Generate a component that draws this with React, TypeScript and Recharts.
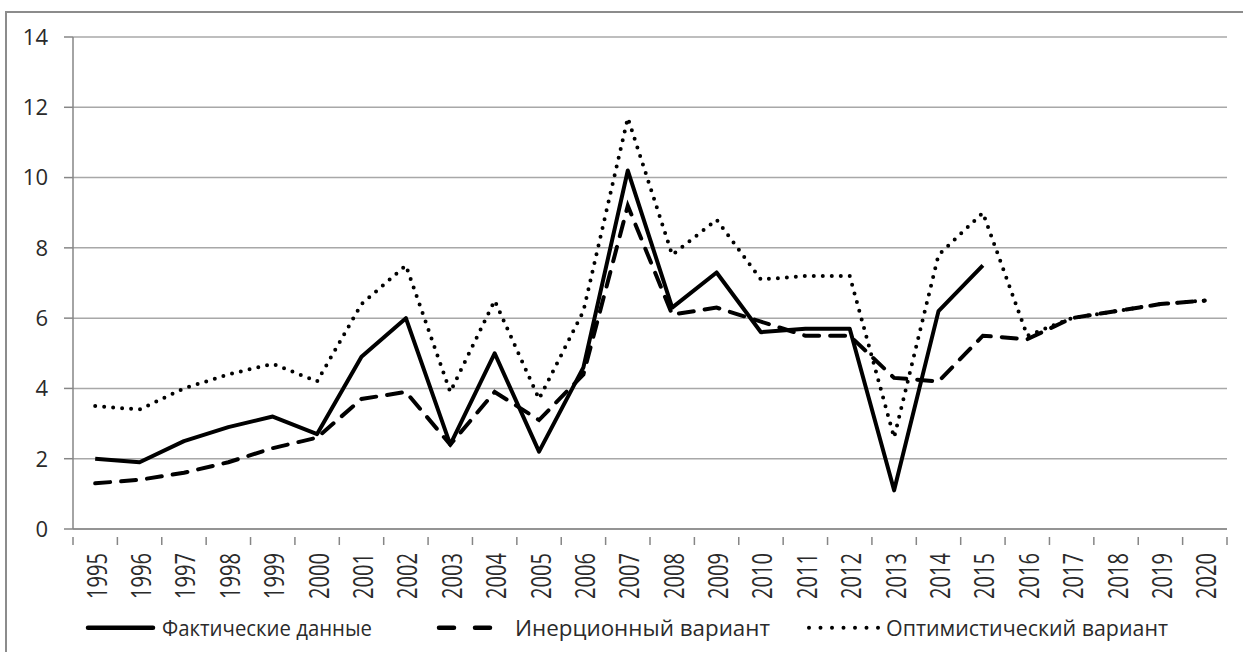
import React from 'react';
import { LineChart, Line, XAxis, YAxis, CartesianGrid, Legend } from 'recharts';

const years = ['1995','1996','1997','1998','1999','2000','2001','2002','2003','2004','2005','2006','2007','2008','2009','2010','2011','2012','2013','2014','2015','2016','2017','2018','2019','2020'];
const actual = [2.0,1.9,2.5,2.9,3.2,2.7,4.9,6.0,2.4,5.0,2.2,4.6,10.2,6.3,7.3,5.6,5.7,5.7,1.1,6.2,7.5,null,null,null,null,null];
const inertial = [1.3,1.4,1.6,1.9,2.3,2.6,3.7,3.9,2.4,3.9,3.1,4.4,9.2,6.1,6.3,5.9,5.5,5.5,4.3,4.2,5.5,5.4,6.0,6.2,6.4,6.5];
const optimistic = [3.5,3.4,4.0,4.4,4.7,4.2,6.4,7.5,3.9,6.5,3.7,6.2,11.7,7.8,8.8,7.1,7.2,7.2,2.6,7.8,9.0,5.5,6.0,6.2,6.4,6.5];
const yTicks = [0,2,4,6,8,10,12,14];
const seriesNames = ['Фактические данные','Инерционный вариант','Оптимистический вариант'];

const data = years.map((y, i) => ({ year: y, actual: actual[i], inertial: inertial[i], optimistic: optimistic[i] }));

const W = 1243;
const H = 652;
const PLOT_LEFT = 73;
const PLOT_RIGHT = 1227;
const BAND = (PLOT_RIGHT - PLOT_LEFT) / years.length;
const AXIS_COLOR = '#868686';
const TEXT_COLOR = '#2a2a2a';
const FONT = '"Open Sans", "DejaVu Sans", sans-serif';

const XTick = (props: any) => {
  const { x, y, payload, index } = props;
  const left = x - BAND / 2;
  const right = x + BAND / 2;
  return (
    <g>
      <line x1={left} y1={y} x2={left} y2={y + 8} stroke={AXIS_COLOR} strokeWidth={1.5} />
      {index === years.length - 1 && (
        <line x1={right} y1={y} x2={right} y2={y + 8} stroke={AXIS_COLOR} strokeWidth={1.5} />
      )}
      <text
        x={0}
        y={0}
        transform={`translate(${x + 1},${y + 16}) rotate(-90)`}
        textAnchor="end"
        dominantBaseline="central"
        fontSize={27}
        textLength={46}
        lengthAdjust="spacingAndGlyphs"
        fill={TEXT_COLOR}
        fontFamily={FONT}
      >
        {payload.value}
      </text>
    </g>
  );
};

const LegendContent = () => {
  const ly = 22.7;
  const ty = 31;
  return (
    <svg width={W} height={40} style={{ display: 'block' }}>
      <line x1={88} y1={ly} x2={153} y2={ly} stroke="#000" strokeWidth={4.5} strokeLinecap="round" />
      <text x={162} y={ty} fontSize={21} fill={TEXT_COLOR} fontFamily={FONT} textLength={210} lengthAdjust="spacingAndGlyphs">{seriesNames[0]}</text>
      <line x1={439} y1={ly} x2={490} y2={ly} stroke="#000" strokeWidth={4.5} strokeLinecap="round" strokeDasharray="15 21" />
      <text x={515} y={ty} fontSize={21} fill={TEXT_COLOR} fontFamily={FONT} textLength={255} lengthAdjust="spacingAndGlyphs">{seriesNames[1]}</text>
      <line x1={809} y1={ly} x2={879} y2={ly} stroke="#000" strokeWidth={4} strokeLinecap="round" strokeDasharray="0 11.5" />
      <text x={886} y={ty} fontSize={21} fill={TEXT_COLOR} fontFamily={FONT} textLength={282} lengthAdjust="spacingAndGlyphs">{seriesNames[2]}</text>
    </svg>
  );
};

export default function App() {
  return (
    <div style={{ position: 'absolute', left: 0, top: 0, width: W, height: H, overflow: 'hidden', background: '#fff' }}>
      <div style={{ position: 'absolute', left: 5, top: 11, width: W + 20, height: H + 20, border: '2px solid #8c8c8c', boxSizing: 'border-box' }} />
      <div style={{ position: 'absolute', left: 0, top: 0 }}>
        <LineChart width={W} height={H} data={data} margin={{ top: 37, right: W - PLOT_RIGHT, bottom: 0, left: 0 }}>
          <CartesianGrid vertical={false} stroke="#a8a8a8" strokeWidth={1.5} />
          <XAxis
            dataKey="year"
            scale="band"
            interval={0}
            height={83}
            tickLine={false}
            axisLine={{ stroke: AXIS_COLOR, strokeWidth: 1.5 }}
            tick={<XTick />}
          />
          <YAxis
            domain={[0, 14]}
            ticks={yTicks}
            width={PLOT_LEFT}
            tickSize={9}
            tickMargin={16}
            tickLine={{ stroke: AXIS_COLOR, strokeWidth: 1.5 }}
            axisLine={{ stroke: AXIS_COLOR, strokeWidth: 1.5 }}
            tick={{ fill: TEXT_COLOR, fontSize: 22, fontFamily: FONT }}
          />
          <Legend
            content={<LegendContent />}
            wrapperStyle={{ position: 'absolute', top: 605, left: 0, width: W, height: 40 }}
          />
          <Line dataKey="optimistic" name={seriesNames[2]} stroke="#000" strokeWidth={4} strokeLinecap="round" strokeDasharray="0 9" dot={false} activeDot={false} isAnimationActive={false} />
          <Line dataKey="inertial" name={seriesNames[1]} stroke="#000" strokeWidth={4} strokeLinecap="round" strokeDasharray="15 11" dot={false} activeDot={false} isAnimationActive={false} />
          <Line dataKey="actual" name={seriesNames[0]} stroke="#000" strokeWidth={4} strokeLinejoin="round" dot={false} activeDot={false} isAnimationActive={false} />
        </LineChart>
      </div>
    </div>
  );
}
